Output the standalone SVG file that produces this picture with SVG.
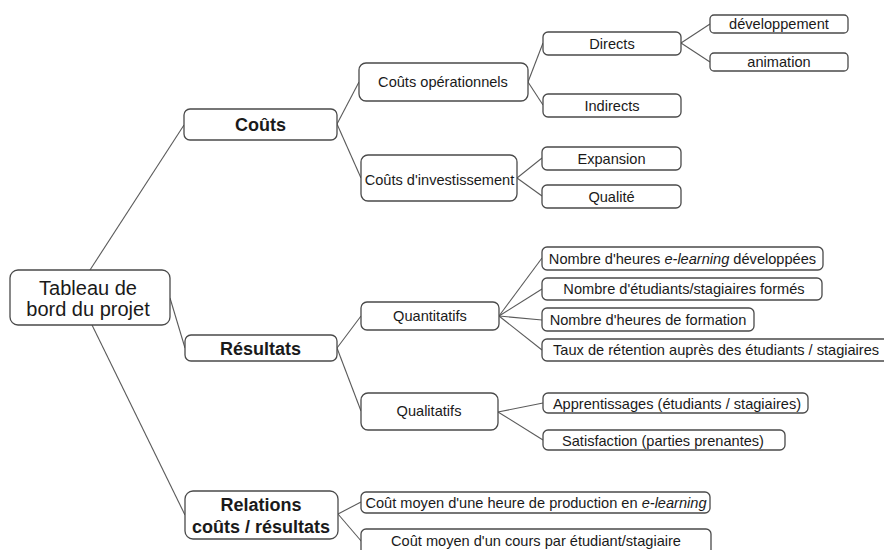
<svg xmlns="http://www.w3.org/2000/svg" width="884" height="550" viewBox="0 0 884 550">
<style>
.box{fill:#fff;stroke:#4a4a4a;stroke-width:1.3}
.t{font-family:"Liberation Sans",Arial,sans-serif;fill:#1a1a1a;text-anchor:middle}
.root{font-size:20px}
.l1{font-size:18px;font-weight:bold}
.l2{font-size:14.6px}
.conn line{stroke:#5a5a5a;stroke-width:1.1;fill:none}
</style>
<rect width="884" height="550" fill="#fff"/>
<g id="connectors" class="conn">
<line x1="90" y1="270" x2="184" y2="125"/>
<line x1="170" y1="298" x2="185" y2="348"/>
<line x1="92" y1="325" x2="185" y2="515"/>
<line x1="337" y1="124" x2="359" y2="82"/>
<line x1="337" y1="124" x2="361" y2="178"/>
<line x1="528" y1="82" x2="543" y2="43"/>
<line x1="528" y1="82" x2="543" y2="105"/>
<line x1="681" y1="43" x2="710" y2="24"/>
<line x1="681" y1="43" x2="710" y2="62"/>
<line x1="517" y1="178" x2="542" y2="158"/>
<line x1="517" y1="178" x2="542" y2="196"/>
<line x1="337" y1="348" x2="361" y2="316"/>
<line x1="337" y1="348" x2="361" y2="411"/>
<line x1="499" y1="316" x2="542" y2="258"/>
<line x1="499" y1="316" x2="542" y2="289"/>
<line x1="499" y1="316" x2="542" y2="320"/>
<line x1="499" y1="316" x2="542" y2="350"/>
<line x1="498" y1="412" x2="543" y2="403"/>
<line x1="498" y1="412" x2="543" y2="440"/>
<line x1="338" y1="514" x2="361" y2="502"/>
<line x1="338" y1="514" x2="362" y2="542"/>
</g>
<g id="root"><rect class="box" x="10" y="270" width="160" height="55" rx="8"/>
<text class="t root" x="88" y="295">Tableau de</text><text class="t root" x="88" y="316">bord du projet</text></g>
<g id="couts"><rect class="box" x="184" y="109" width="153" height="31" rx="6"/><text class="t l1" x="260.5" y="131">Coûts</text></g>
<g id="resultats"><rect class="box" x="185" y="335" width="152" height="26" rx="6"/><text class="t l1" x="260.5" y="355">Résultats</text></g>
<g id="relations"><rect class="box" x="185" y="491" width="153" height="48" rx="8"/>
<text class="t l1" x="261" y="511">Relations</text><text class="t l1" x="261" y="533">coûts / résultats</text></g>
<g id="couts-op"><rect class="box" x="359" y="63" width="169" height="38" rx="7"/><text class="t l2" x="443" y="87">Coûts opérationnels</text></g>
<g id="couts-inv"><rect class="box" x="361" y="155" width="156" height="46" rx="7"/><text class="t l2" x="439.5" y="185">Coûts d'investissement</text></g>
<g id="directs"><rect class="box" x="543" y="32" width="138" height="23" rx="5"/><text class="t l2" x="612" y="49">Directs</text></g>
<g id="indirects"><rect class="box" x="543" y="94" width="138" height="23" rx="5"/><text class="t l2" x="612" y="111">Indirects</text></g>
<g id="developpement"><rect class="box" x="710" y="15" width="138" height="18" rx="4"/><text class="t l2" x="779" y="29">développement</text></g>
<g id="animation"><rect class="box" x="710" y="53" width="138" height="18" rx="4"/><text class="t l2" x="779" y="67">animation</text></g>
<g id="expansion"><rect class="box" x="542" y="147" width="139" height="23" rx="5"/><text class="t l2" x="611.5" y="164">Expansion</text></g>
<g id="qualite"><rect class="box" x="542" y="185" width="139" height="23" rx="5"/><text class="t l2" x="611.5" y="202">Qualité</text></g>
<g id="quantitatifs"><rect class="box" x="361" y="302" width="138" height="28" rx="6"/><text class="t l2" x="430" y="321">Quantitatifs</text></g>
<g id="qualitatifs"><rect class="box" x="361" y="393" width="137" height="37" rx="7"/><text class="t l2" x="429" y="416">Qualitatifs</text></g>
<g id="q1"><rect class="box" x="542" y="247" width="281" height="23" rx="5"/><text class="t l2" x="682.5" y="264">Nombre d'heures <tspan font-style="italic">e-learning</tspan> développées</text></g>
<g id="q2"><rect class="box" x="542" y="278" width="280" height="22" rx="5"/><text class="t l2" x="684" y="294">Nombre d'étudiants/stagiaires formés</text></g>
<g id="q3"><rect class="box" x="542" y="308" width="212" height="23" rx="5"/><text class="t l2" x="648" y="325">Nombre d'heures de formation</text></g>
<g id="q4"><rect class="box" x="542" y="339" width="350" height="22" rx="5"/><text class="t l2" x="553" y="355" style="text-anchor:start">Taux de rétention auprès des étudiants / stagiaires</text></g>
<g id="apprentissages"><rect class="box" x="543" y="393" width="265" height="20" rx="5"/><text class="t l2" x="677" y="409">Apprentissages (étudiants / stagiaires)</text></g>
<g id="satisfaction"><rect class="box" x="543" y="430" width="242" height="20" rx="5"/><text class="t l2" x="663" y="446">Satisfaction (parties prenantes)</text></g>
<g id="rel1"><rect class="box" x="361" y="492" width="349" height="21" rx="5"/><text class="t l2" x="536" y="508">Coût moyen d'une heure de production en <tspan font-style="italic">e-learning</tspan></text></g>
<g id="rel2"><rect class="box" x="361" y="529" width="350" height="30" rx="5"/><text class="t l2" x="536" y="546">Coût moyen d'un cours par étudiant/stagiaire</text></g>
</svg>
